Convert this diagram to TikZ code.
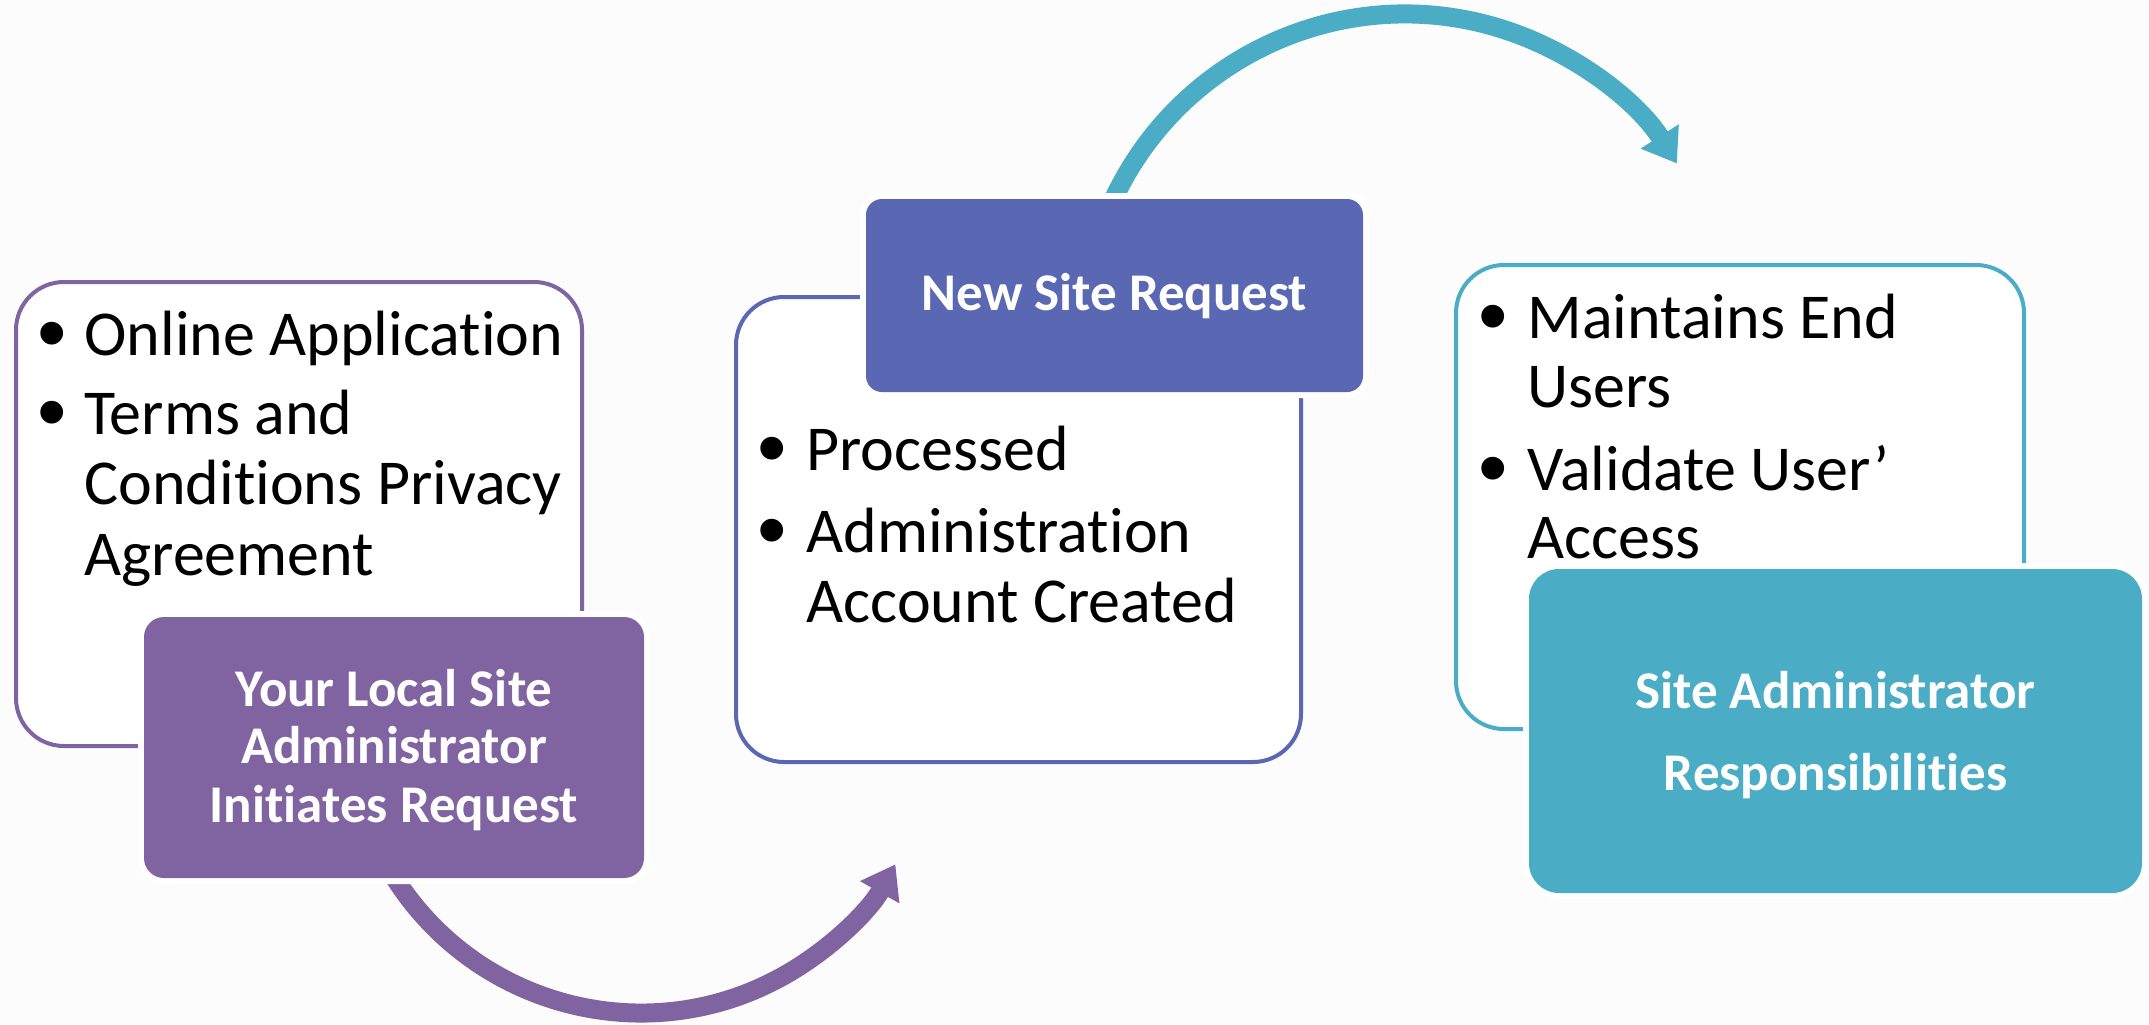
\documentclass[tikz,border=0pt]{standalone}
\usepackage{fontspec}
\setmainfont{Carlito}[Ligatures=NoCommon]
\newfontfamily\bulfont{Liberation Sans}
\usetikzlibrary{arrows.meta}
\definecolor{bgc}{RGB}{252,252,252}
\definecolor{purp}{HTML}{8064A2}
\definecolor{blu}{HTML}{5A67B2}
\definecolor{tea}{HTML}{4BACC6}
\begin{document}
\begin{tikzpicture}[x=0.5pt,y=0.5pt,
  wbox/.style={draw=#1, line width=2pt, fill=white, rounded corners=24pt, inner sep=0pt, outer sep=0pt},
  cbox/.style={fill=#1, preaction={draw=white, line width=6pt}, inner sep=0pt, outer sep=0pt},
  btext/.style={anchor=base west, inner sep=0pt, text=black, font=\fontsize{32}{35}\selectfont},
  bdot/.style={anchor=center, inner sep=0pt, text=black, font=\bulfont\fontsize{42}{42}\selectfont},
  ttext/.style={anchor=base, inner sep=0pt, text=white, font=\bfseries\fontsize{26.5}{29}\selectfont},
  flow/.style={draw=#1, line width=9.5pt, -{Triangle[length=16pt,width=21.5pt]}}
]
\fill[bgc] (0,0) rectangle (2149,-1024);
\useasboundingbox (0,0) rectangle (2149,-1024);

% white boxes
\node[wbox=purp, minimum width=283pt, minimum height=232pt] (lbox) at (299,-514) {};
\node[wbox=blu, minimum width=282.5pt, minimum height=232.5pt] (mbox) at (1018.5,-529.5) {};
\node[wbox=tea, minimum width=284pt, minimum height=232pt] (rbox) at (1740,-497) {};

% arc connectors
\coordinate (pc) at (641,-721);
\coordinate (tc) at (1405,-336);
\draw[flow=purp] ([shift={(-150:292)}]pc) arc[start angle=-150, end angle=-29.4, radius=292];
\draw[flow=tea] ([shift={(160:322)}]tc) arc[start angle=160, end angle=32.4, radius=322];

% coloured boxes
\node[cbox=purp, rounded corners=10pt, minimum width=250pt, minimum height=130.5pt] (pbox) at (394,-747.5) {};
\node[cbox=blu, rounded corners=8pt, minimum width=248.5pt, minimum height=96.5pt] (bbox) at (1114.5,-295.5) {};
\node[cbox=tea, rounded corners=15pt, minimum width=306.5pt, minimum height=162pt] (tbox) at (1835.5,-731) {};

% left bullets
\node[bdot] (ld1) at (52,-342) {•};
\node[btext] (l1) at (84,-355) {Online Application};
\node[bdot] (ld2) at (52,-421) {•};
\node[btext] (l2) at (84,-434) {Terms and};
\node[btext] (l3) at (84,-504) {Conditions Privacy};
\node[btext] (l4) at (84,-575) {Agreement};

% middle bullets
\node[bdot] (md1) at (772,-457) {•};
\node[btext] (m1) at (806,-470) {Processed};
\node[bdot] (md2) at (772,-539) {•};
\node[btext] (m2) at (806,-552) {Administration};
\node[btext] (m3) at (806,-622) {Account Created};

% right bullets
\node[bdot] (rd1) at (1493,-325) {•};
\node[btext] (r1) at (1527,-338) {Maintains End};
\node[btext] (r2) at (1527,-407) {Users};
\node[bdot] (rd2) at (1493,-477) {•};
\node[btext] (r3) at (1527,-490) {Validate User’};
\node[btext] (r4) at (1527,-558) {Access};

% titles
\node[ttext] (p1) at (394,-706) {Your Local Site};
\node[ttext] (p2) at (394,-763) {Administrator};
\node[ttext] (p3) at (394,-822) {Initiates Request};
\node[ttext] (b1) at (1114.5,-310) {New Site Request};
\node[ttext] (t1) at (1835.5,-708) {Site Administrator};
\node[ttext] (t2) at (1835.5,-790) {Responsibilities};
\end{tikzpicture}
\end{document}
